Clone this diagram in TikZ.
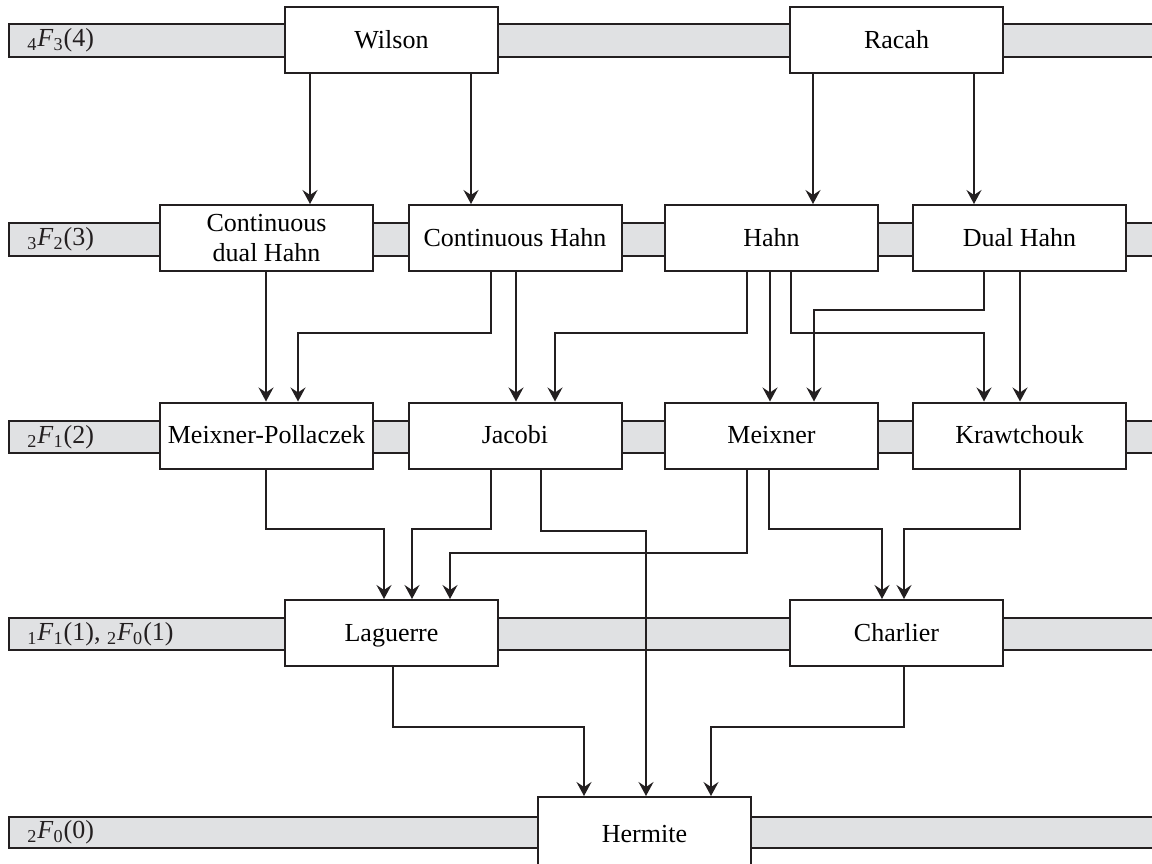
\documentclass[tikz,border=0pt]{standalone}
\usepackage{fontspec}
\setmainfont{Liberation Serif}
\usetikzlibrary{arrows.meta}
\definecolor{bandgray}{HTML}{E0E1E3}
\definecolor{ink}{HTML}{231F20}
\newcommand{\hypf}[3]{\textsubscript{#1}\textit{F}\textsubscript{#2}(#3)}
\begin{document}
\begin{tikzpicture}[x=0.5pt,y=-0.5pt,
  font=\fontsize{13}{15}\selectfont,
  band/.style={draw=ink, line width=0.9pt, fill=bandgray},
  box/.style={draw=ink, line width=1pt, fill=white, minimum width=106.5pt,
    minimum height=33pt, align=center, inner sep=0pt},
  one/.style={text height=9pt, text depth=1pt},
  arr/.style={draw=ink, line width=0.8pt, -{Stealth[length=7pt,width=7.5pt,inset=2.5pt]}},
  lbl/.style={anchor=west, inner sep=0pt, text=ink}]
\useasboundingbox (0,0) rectangle (1152,863);
\clip (0,0) rectangle (1152,863);
% bands
\fill[white] (0,0) rectangle (1152,863);
\draw[band] (9,24) rectangle (1175,57);
\draw[band] (9,223) rectangle (1175,256);
\draw[band] (9,421) rectangle (1175,453);
\draw[band] (9,618) rectangle (1175,650);
\draw[band] (9,817) rectangle (1175,848);
% band labels
\node[lbl] (l1) at (27,40.5) {\hypf{4}{3}{4}};
\node[lbl] (l2) at (27,239.5) {\hypf{3}{2}{3}};
\node[lbl] (l3) at (27,437) {\hypf{2}{1}{2}};
\node[lbl] (l4) at (27,634) {\hypf{1}{1}{1}, \hypf{2}{0}{1}};
\node[lbl] (l5) at (27,832.5) {\hypf{2}{0}{0}};
% boxes
\node[box,one] (wil) at (391.5,40) {Wilson};
\node[box,one] (rac) at (896.5,40) {Racah};
\node[box] (cdh) at (266.5,238) {Continuous\\dual Hahn};
\node[box,one] (ch)  at (515,238) {Continuous Hahn};
\node[box,one] (hah) at (771.5,238) {Hahn};
\node[box,one] (dh)  at (1019.5,238) {Dual Hahn};
\node[box,one] (mp)  at (266.5,435.5) {Meixner-Pollaczek};
\node[box,one] (jac) at (515,435.5) {Jacobi};
\node[box,one] (mei) at (771.5,435.5) {Meixner};
\node[box,one] (kra) at (1019.5,435.5) {Krawtchouk};
\node[box,one] (lag) at (391.5,633) {Laguerre};
\node[box,one] (cha) at (896.5,633) {Charlier};
\node[box, minimum height=40pt] (her) at (644.5,837) {\raisebox{3.5pt}{Hermite}};
% row 1 -> row 2
\draw[arr] (wil.south -| 310,0) -- (cdh.north -| 310,0);
\draw[arr] (wil.south -| 471,0) -- (ch.north -| 471,0);
\draw[arr] (rac.south -| 813,0) -- (hah.north -| 813,0);
\draw[arr] (rac.south -| 974,0) -- (dh.north -| 974,0);
% row 2 -> row 3
\draw[arr] (cdh.south -| 266,0) -- (mp.north -| 266,0);
\draw[arr] (ch.south -| 491,0) -- (491,333) -| (mp.north -| 298,0);
\draw[arr] (ch.south -| 516,0) -- (jac.north -| 516,0);
\draw[arr] (hah.south -| 747,0) -- (747,333) -| (jac.north -| 555,0);
\draw[arr] (hah.south -| 770,0) -- (mei.north -| 770,0);
\draw[arr] (hah.south -| 791,0) -- (791,333) -| (kra.north -| 984,0);
\draw[arr] (dh.south -| 984,0) -- (984,310) -| (mei.north -| 814,0);
\draw[arr] (dh.south -| 1020,0) -- (kra.north -| 1020,0);
% row 3 -> row 4 / 5
\draw[arr] (mp.south -| 266,0) -- (266,529) -| (lag.north -| 384,0);
\draw[arr] (jac.south -| 491,0) -- (491,529) -| (lag.north -| 412,0);
\draw[arr] (jac.south -| 541,0) -- (541,531) -| (her.north -| 646,0);
\draw[arr] (mei.south -| 747,0) -- (747,553) -| (lag.north -| 450,0);
\draw[arr] (mei.south -| 769,0) -- (769,529) -| (cha.north -| 882,0);
\draw[arr] (kra.south -| 1020,0) -- (1020,529) -| (cha.north -| 904,0);
% row 4 -> row 5
\draw[arr] (lag.south -| 393,0) -- (393,727) -| (her.north -| 584,0);
\draw[arr] (cha.south -| 904,0) -- (904,727) -| (her.north -| 711,0);
\end{tikzpicture}
\end{document}
